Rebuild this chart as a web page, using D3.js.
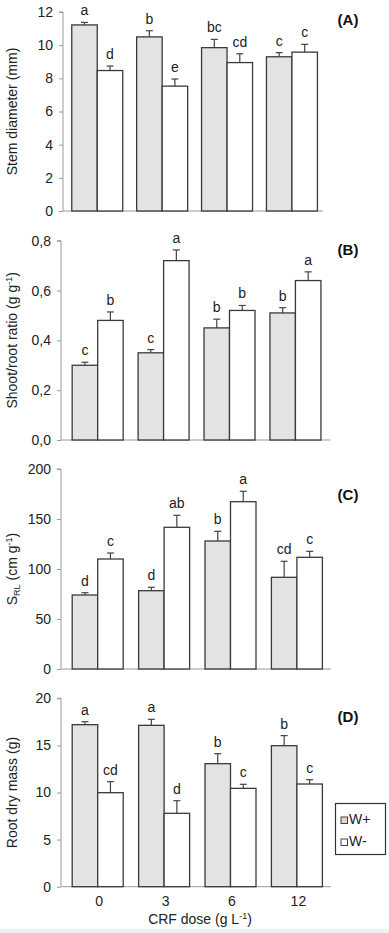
<!DOCTYPE html>
<html><head><meta charset="utf-8">
<script src="https://cdn.jsdelivr.net/npm/d3@7"></script>
<style>
body{margin:0;background:#fff;}
svg{display:block;font-family:"Liberation Sans",Arial,sans-serif;}
</style></head>
<body><svg id="c" width="389" height="933"></svg>
<script>
const doses = ["0","3","6","12"];
// Panel A: stem diameter (mm)
const stemWp = [11.22, 10.5, 9.85, 9.3];
const stemWpErr = [0.15, 0.37, 0.5, 0.25];
const stemWm = [8.47, 7.53, 8.95, 9.58];
const stemWmErr = [0.27, 0.43, 0.53, 0.47];
const stemWpLet = ["a","b","bc","c"];
const stemWmLet = ["d","e","cd","c"];
// Panel B: shoot/root ratio
const srWp = [0.30, 0.35, 0.45, 0.51];
const srWpErr = [0.012, 0.013, 0.035, 0.021];
const srWm = [0.48, 0.72, 0.52, 0.64];
const srWmErr = [0.034, 0.043, 0.02, 0.035];
const srWpLet = ["c","c","b","b"];
const srWmLet = ["b","a","b","a"];
// Panel C: SRL
const srlWp = [74, 78.3, 128, 91.7];
const srlWpErr = [2.3, 3.4, 9.7, 16];
const srlWm = [110, 141.7, 167.3, 111.7];
const srlWmErr = [6, 12, 10.4, 6];
const srlWpLet = ["d","d","b","cd"];
const srlWmLet = ["c","ab","a","c"];
// Panel D: root dry mass
const rdmWp = [17.2, 17.13, 13.06, 14.97];
const rdmWpErr = [0.32, 0.64, 1.06, 1.07];
const rdmWm = [9.98, 7.79, 10.44, 10.9];
const rdmWmErr = [1.17, 1.34, 0.43, 0.46];
const rdmWpLet = ["a","a","b","b"];
const rdmWmLet = ["cd","d","c","c"];

const ticksA = [0,2,4,6,8,10,12];
const ticksB = [0,0.2,0.4,0.6,0.8];
const ticksC = [0,50,100,150,200];
const ticksD = [0,5,10,15,20];
const seriesNames = ["W+","W-"];

const svg = d3.select("#c");
svg.append("rect").attr("x",0).attr("y",929).attr("width",389).attr("height",4).attr("fill","#efefef");

const panels = [
 {lab:"(A)", wp:stemWp, wpe:stemWpErr, wm:stemWm, wme:stemWmErr, lp:stemWpLet, lm:stemWmLet,
  ticks:ticksA, max:12, y0:211, y1:12, ax:63, axEnd:323, xr:[64.8,324.4], labY:25, fmt:d=>d},
 {lab:"(B)", wp:srWp, wpe:srWpErr, wm:srWm, wme:srWmErr, lp:srWpLet, lm:srWmLet,
  ticks:ticksB, max:0.8, y0:440, y1:240.7, ax:61, axEnd:330, xr:[64.7,328.4], labY:255, fmt:d=>d3.format(".1f")(d).replace(".",",")},
 {lab:"(C)", wp:srlWp, wpe:srlWpErr, wm:srlWm, wme:srlWmErr, lp:srlWpLet, lm:srlWmLet,
  ticks:ticksC, max:200, y0:669, y1:469, ax:61, axEnd:331, xr:[64.5,330.1], labY:500, fmt:d=>d},
 {lab:"(D)", wp:rdmWp, wpe:rdmWpErr, wm:rdmWm, wme:rdmWmErr, lp:rdmWpLet, lm:rdmWmLet,
  ticks:ticksD, max:20, y0:886.7, y1:698.3, ax:61, axEnd:331, xr:[64.5,330.1], labY:722, fmt:d=>d}
];

const bw = 25.5;
panels.forEach((p,pi)=>{
  const g = svg.append("g");
  const y = d3.scaleLinear().domain([0,p.max]).range([p.y0,p.y1]);
  const x = d3.scaleBand().domain(doses).range(p.xr);
  const yAx = g.append("g").attr("transform",`translate(${p.ax},0)`)
    .call(d3.axisLeft(y).tickValues(p.ticks).tickSize(4).tickPadding(6).tickFormat(p.fmt));
  yAx.select(".domain").attr("stroke","#9a9a9a").attr("d",`M-4,${p.y1}H0V${p.y0}`);
  yAx.selectAll(".tick line").attr("stroke","#9a9a9a");
  yAx.selectAll(".tick text").attr("font-size",14).attr("fill","#222").attr("font-family","Liberation Sans, Arial, sans-serif");
  g.append("line").attr("x1",p.ax).attr("x2",p.axEnd).attr("y1",p.y0).attr("y2",p.y0).attr("stroke","#9a9a9a").attr("stroke-width",1);
  const series = [
    {v:p.wp, e:p.wpe, l:p.lp, off:-bw, fill:"#e3e3e3"},
    {v:p.wm, e:p.wme, l:p.lm, off:0, fill:"#ffffff"}
  ];
  series.forEach(s=>{
    doses.forEach((d,i)=>{
      const cx = x(d)+x.bandwidth()/2;
      const bx = cx + s.off;
      const top = y(s.v[i]);
      const et = y(s.v[i]+s.e[i]);
      g.append("line").attr("x1",bx+bw/2).attr("x2",bx+bw/2).attr("y1",top).attr("y2",et).attr("stroke","#444").attr("stroke-width",1.2);
      g.append("line").attr("x1",bx+bw/2-3.5).attr("x2",bx+bw/2+3.5).attr("y1",et).attr("y2",et).attr("stroke","#444").attr("stroke-width",1.2);
      g.append("rect").attr("x",bx).attr("y",top).attr("width",bw).attr("height",p.y0-top)
        .attr("fill",s.fill).attr("stroke","#3a3a3a").attr("stroke-width",1.3);
      g.append("text").attr("x",bx+bw/2).attr("y",et-7).attr("text-anchor","middle")
        .attr("font-size",14).attr("fill","#222").text(s.l[i]);
    });
  });
  g.append("text").attr("x",348).attr("y",p.labY).attr("text-anchor","middle")
    .attr("font-size",15).attr("font-weight","bold").attr("fill","#111").text(p.lab);
  const yc = (p.y0+p.y1)/2;
  const t = g.append("text").attr("transform",`translate(17,${yc}) rotate(-90)`).attr("text-anchor","middle")
    .attr("font-size",14).attr("fill","#222");
  if(pi===0){ t.text("Stem diameter (mm)"); }
  else if(pi===1){ t.append("tspan").text("Shoot/root ratio (g g"); t.append("tspan").attr("font-size",9).attr("dy",-5).text("-1"); t.append("tspan").attr("dy",5).text(")"); }
  else if(pi===2){ t.append("tspan").text("S"); t.append("tspan").attr("font-size",9).attr("dy",3).text("RL"); t.append("tspan").attr("dy",-3).text(" (cm g"); t.append("tspan").attr("font-size",9).attr("dy",-5).text("-1"); t.append("tspan").attr("dy",5).text(")"); }
  else { t.text("Root dry mass (g)"); }
  if(pi===3){
    doses.forEach(d=>{
      g.append("text").attr("x",x(d)+x.bandwidth()/2+1.5).attr("y",906).attr("text-anchor","middle")
        .attr("font-size",14).attr("fill","#222").text(d);
    });
    const xt = g.append("text").attr("x",200).attr("y",924).attr("text-anchor","middle").attr("font-size",14).attr("fill","#222");
    xt.append("tspan").text("CRF dose (g L");
    xt.append("tspan").attr("font-size",9).attr("dy",-5).text("-1");
    xt.append("tspan").attr("dy",5).text(")");
  }
});

const lg = svg.append("g");
lg.append("rect").attr("x",335.5).attr("y",803.5).attr("width",50).attr("height",51).attr("fill","#fff").attr("stroke","#333").attr("stroke-width",1.2);
const lfills = ["#d9d9d9","#ffffff"];
seriesNames.forEach((n,i)=>{
  const yy = 817 + i*22;
  lg.append("rect").attr("x",341).attr("y",yy).attr("width",6.5).attr("height",6.5).attr("fill",lfills[i]).attr("stroke","#444").attr("stroke-width",1);
  lg.append("text").attr("x",349).attr("y",yy+7).attr("font-size",14).attr("fill","#222").text(n);
});
</script></body></html>
